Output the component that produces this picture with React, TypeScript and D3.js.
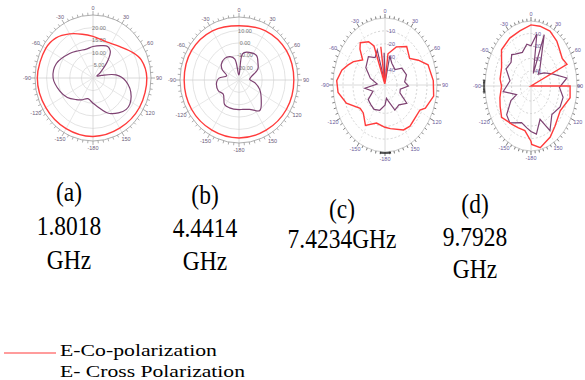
import { useEffect, useRef } from "react";
import * as d3 from "d3";

type Pt = [number, number]; // [angle in degrees (0 = top, clockwise), value]

// (a) 1.8018 GHz, radial scale 0 .. 25
const coA: Pt[] = [
  [-180, 23.2], [-150, 23.2], [-120, 23.5], [-90, 24.0], [-60, 23.5], [-45, 22.5],
  [-30, 20.2], [-15, 18.0], [0, 16.5], [22, 15.5], [43, 17.0], [60, 20.0],
  [71, 22.0], [90, 23.2], [120, 23.2], [150, 23.0],
];
const crossA: Pt[] = [
  [-180, 10.0], [-165, 8.5], [-150, 10.0], [-140, 11.2], [-125, 13.5], [-110, 15.2],
  [-90, 17.2], [-70, 16.8], [-46, 14.0], [-30, 12.5], [-14, 11.8], [0, 12.5],
  [18, 13.5], [27, 14.0], [35, 13.0], [42, 9.8], [55, 3.8], [65, 1.8], [74, 3.8],
  [83, 10.0], [95, 14.2], [114, 18.0], [131, 19.0], [153, 15.8], [172, 11.2],
];
const gridA = [5, 10, 15, 20];
const gridLabelsA = ["5.00", "10.00", "15.00", "20.00"];

// (b) 4.4414 GHz, radial scale -30 .. 21
const coB: Pt[] = [
  [-180, 16.9], [-150, 16.9], [-120, 17.4], [-90, 17.4], [-60, 17.4], [-30, 15.9],
  [0, 13.9], [30, 15.9], [60, 17.4], [90, 17.4], [120, 17.4], [150, 16.9],
];
const crossB: Pt[] = [
  [-180, -6.0], [-160, -6.0], [-148, -6.5], [-130, -12.2], [-116, -10.1], [-95, -10.6],
  [-85, -12.7], [-72, -18.8], [-60, -13.2], [-50, -10.1], [-35, -8.6], [-22, -9.6],
  [-12, -12.7], [-3, -25.9], [3, -24.9], [8, -8.6], [16, -6.5], [37, -5.0], [50, -8.6],
  [62, -11.6], [75, -18.8], [87, -20.8], [100, -15.7], [113, -10.6], [131, -4.5],
  [144, 0.6], [159, -4.5], [172, -6.0],
];
const gridB = [-20, -10, 0, 10];
const gridLabelsB = ["-20.00", "-10.00", "0.00", "10.00"];

// (c) 7.4234 GHz, radial scale -52 .. 0
const coC: Pt[] = [
  [-180, -19.2], [-164, -21.3], [-148, -15.1], [-135, -21.3], [-126, -21.3], [-110, -10.9],
  [-97, -4.7], [-86, -3.6], [-75, -7.3], [-67, -12.0], [-60, -15.6], [-49, -22.4],
  [-42, -14.6], [-37, -10.9], [-26, -14.6], [-20, -19.8], [-14, -51.0], [-8, -22.0],
  [-3, -51.0], [7, -27.6], [21, -20.3], [36, -15.1], [50, -19.8],
  [60, -13.5], [70, -6.2], [86, -3.6], [100, -2.6], [114, -7.8], [119, -12.0],
  [130, -12.5], [142, -11.4], [152, -12.5], [171, -17.7],
];
const crossC: Pt[] = [
  [-180, -36.4], [-165, -31.7], [-150, -30.2], [-137, -31.2], [-124, -31.7], [-112, -39.0],
  [-97, -31.7], [-85, -44.2], [-70, -36.4], [-55, -28.6], [-37, -24.4], [-25, -28.6],
  [-16, -23.9], [-10, -49.4], [-2, -27.0], [6, -49.4], [12, -29.0],
  [22, -33.8], [40, -36.4], [52, -30.7], [70, -29.1], [83, -32.2], [92, -28.6],
  [102, -36.4], [112, -35.9], [123, -26.0], [138, -31.2], [153, -30.2], [165, -39.0],
  [172, -41.6],
];
const gridC = [-40, -30, -20, -10];
const gridLabelsC = ["-40", "-30", "-20", "-10"];

// (d) 9.7928 GHz, radial scale -52 .. 0
const coD: Pt[] = [
  [-180, -7.8], [-169, -15.6], [-157, -15.6], [-145, -14.6], [-127, -10.4], [-115, -13.5],
  [-105, -15.6], [-90, -18.7], [-81, -16.6], [-66, -15.6], [-49, -7.8], [-32, -6.8],
  [-16, -6.2], [0, -3.1], [12, -3.1], [26, -3.1], [39, -5.7], [49, -8.8], [58, -10.4],
  [67, -7.8], [78, -52.0], [90, -7.8], [102, -6.8], [121, -13.5], [140, -9.9],
  [152, -5.7], [168, -1.6], [179, -5.2],
];
const crossD: Pt[] = [
  [-180, -15.6], [-172, -18.2], [-160, -20.8], [-141, -14.0], [-130, -16.1], [-117, -26.5],
  [-113, -34.3], [-98, -20.3], [-80, -27.9], [-64, -20.7], [-50, -22.6], [-41, -18.7],
  [-35, -20.8], [-20, -23.4], [-8, -18.2], [0, -19.8], [9, -9.9], [15, -41.6], [20, -8.3],
  [35, -34.3], [41, -39.5], [55, -33.8], [68, -26.0], [81, -10.9], [92, -19.8],
  [104, -14.6], [117, -15.1], [134, -19.2], [149, -10.4], [159, -23.4], [171, -13.0],
];
const gridD = [-40, -30, -20, -10];
const gridLabelsD = ["-40", "-30", "-20", "-10"];

const ANGLES = [0, 30, 60, 90, 120, 150, 180, -150, -120, -90, -60, -30];
const ANGLE_LABELS = ["0", "30", "60", "90", "120", "150", "-180", "-150", "-120", "-90", "-60", "-30"];

const CAPTIONS = [
  ["(a)", "1.8018", "GHz"],
  ["(b)", "4.4414", "GHz"],
  ["(c)", "7.4234GHz"],
  ["(d)", "9.7928", "GHz"],
];
const LEGEND = ["E-Co-polarization", "E- Cross Polarization"];

const CO_COLOR = "#ff3b3b";
const CROSS_COLOR = "#7e4272";
const SERIF = "'Liberation Serif', 'Times New Roman', Times, serif";
const SANS = "'Liberation Sans', Arial, sans-serif";

// band: short dark tick run the plotting tool left on (c) and (d), [from, to] degrees
const panels = [
  { cx: 93, cy: 78, rx: 58, ry: 63, domain: [0, 25], grid: gridA, gridLabels: gridLabelsA, co: coA, cross: crossA, smooth: true, dotted: false, band: null },
  { cx: 239, cy: 80, rx: 59, ry: 63, domain: [-30, 21], grid: gridB, gridLabels: gridLabelsB, co: coB, cross: crossB, smooth: true, dotted: false, band: null },
  { cx: 385, cy: 85, rx: 52, ry: 67, domain: [-52, 0], grid: gridC, gridLabels: gridLabelsC, co: coC, cross: crossC, smooth: false, dotted: true, band: [174, 186] },
  { cx: 531, cy: 86, rx: 46, ry: 65, domain: [-52, 0], grid: gridD, gridLabels: gridLabelsD, co: coD, cross: crossD, smooth: false, dotted: true, band: [264, 276] },
];

const captionPos = [
  { x: 69, ys: [201, 235, 269] },
  { x: 205, ys: [204, 237, 270] },
  { x: 342, ys: [218, 248] },
  { x: 475, ys: [213, 246, 278] },
];

export default function App() {
  const svgRef = useRef<SVGSVGElement | null>(null);

  useEffect(() => {
    const svg = d3.select(svgRef.current);
    svg.selectAll("*").remove();
    const W = 585;
    const H = 380;
    svg.append("rect").attr("width", W).attr("height", H).attr("fill", "#fff");

    panels.forEach((p) => {
      const g = svg.append("g");
      const r = d3.scaleLinear().domain(p.domain).range([0, 1]).clamp(true);
      const rad = (deg: number) => (deg * Math.PI) / 180;
      const px = (deg: number, f: number) => p.cx + f * p.rx * Math.sin(rad(deg));
      const py = (deg: number, f: number) => p.cy - f * p.ry * Math.cos(rad(deg));

      // grid ellipses
      p.grid.forEach((v) => {
        g.append("ellipse")
          .attr("cx", p.cx)
          .attr("cy", p.cy)
          .attr("rx", r(v) * p.rx)
          .attr("ry", r(v) * p.ry)
          .attr("fill", "none")
          .attr("stroke", p.dotted ? "#c8c8c8" : "#dcdcdc")
          .attr("stroke-dasharray", p.dotted ? "2,2" : null)
          .attr("stroke-width", 0.8);
      });

      // spokes
      d3.range(0, 360, 30).forEach((a) => {
        g.append("line")
          .attr("x1", p.cx)
          .attr("y1", p.cy)
          .attr("x2", px(a, 1))
          .attr("y2", py(a, 1))
          .attr("stroke", a % 90 === 0 ? "#d0d0d0" : "#e2e2e2")
          .attr("stroke-dasharray", p.dotted && a % 90 !== 0 ? "2,2" : null)
          .attr("stroke-width", 0.8);
      });

      // outer ring + ticks
      g.append("ellipse")
        .attr("cx", p.cx)
        .attr("cy", p.cy)
        .attr("rx", p.rx)
        .attr("ry", p.ry)
        .attr("fill", "none")
        .attr("stroke", p.dotted ? "#bbb" : "#9a9a9a")
        .attr("stroke-width", 0.8);
      d3.range(0, 360, 5).forEach((a) => {
        const len = a % 30 === 0 ? 4 : 2.5;
        g.append("line")
          .attr("x1", px(a, 1))
          .attr("y1", py(a, 1))
          .attr("x2", px(a, 1 + len / p.rx))
          .attr("y2", py(a, 1 + len / p.ry))
          .attr("stroke", p.dotted ? "#444" : "#888")
          .attr("stroke-width", 0.7);
      });
      if (p.band) {
        d3.range(p.band[0], p.band[1], 1).forEach((a) => {
          g.append("line")
            .attr("x1", px(a, 1))
            .attr("y1", py(a, 1))
            .attr("x2", px(a, 1 + 2 / p.rx))
            .attr("y2", py(a, 1 + 2 / p.ry))
            .attr("stroke", "#222")
            .attr("stroke-width", 0.9);
        });
      }

      // angle labels
      ANGLES.forEach((a, i) => {
        g.append("text")
          .attr("x", Math.min(px(a, 1 + 8 / p.rx), W - 5))
          .attr("y", py(a, 1 + 7 / p.ry) + 2)
          .attr("text-anchor", "middle")
          .attr("font-family", SANS)
          .attr("font-size", 5.5)
          .attr("fill", p.dotted ? "#6a5a9a" : "#6a5a78")
          .text(ANGLE_LABELS[i]);
      });

      // radial value labels
      p.grid.forEach((v, i) => {
        g.append("text")
          .attr("x", p.cx + 6)
          .attr("y", p.cy - r(v) * p.ry + 2)
          .attr("text-anchor", "middle")
          .attr("font-family", SANS)
          .attr("font-size", 5.5)
          .attr("fill", p.dotted ? "#6a5a9a" : "#777")
          .text(p.gridLabels[i]);
      });

      const line = d3
        .line<Pt>()
        .x((d) => px(d[0], r(d[1])))
        .y((d) => py(d[0], r(d[1])))
        .curve(p.smooth ? d3.curveCatmullRomClosed.alpha(0.5) : d3.curveLinearClosed);

      g.append("path")
        .attr("d", line(p.cross))
        .attr("fill", "none")
        .attr("stroke", CROSS_COLOR)
        .attr("stroke-width", 1.2);
      g.append("path")
        .attr("d", line(p.co))
        .attr("fill", "none")
        .attr("stroke", CO_COLOR)
        .attr("stroke-width", 1.4);
    });

    // captions
    CAPTIONS.forEach((lines, i) => {
      const pos = captionPos[i];
      lines.forEach((t, j) => {
        svg
          .append("text")
          .attr("transform", `translate(${pos.x},${pos.ys[j]}) scale(1,1.12)`)
          .attr("text-anchor", "middle")
          .style("font-family", SERIF)
          .attr("font-size", 23.5)
          .attr("fill", "#000")
          .text(t);
      });
    });

    // legend
    svg.append("line")
      .attr("x1", 4)
      .attr("x2", 56)
      .attr("y1", 353)
      .attr("y2", 353)
      .attr("stroke", CO_COLOR)
      .attr("stroke-width", 1.2);
    const legendY = [356, 377];
    const legendW = [157, 185];
    LEGEND.forEach((t, i) => {
      svg
        .append("text")
        .attr("x", 60)
        .attr("y", legendY[i])
        .attr("textLength", legendW[i])
        .attr("lengthAdjust", "spacingAndGlyphs")
        .style("font-family", SERIF)
        .attr("font-size", 17.5)
        .attr("fill", "#000")
        .text(t);
    });
  }, []);

  return (
    <svg
      ref={svgRef}
      width={585}
      height={380}
      style={{ position: "absolute", left: 0, top: 0 }}
    />
  );
}
